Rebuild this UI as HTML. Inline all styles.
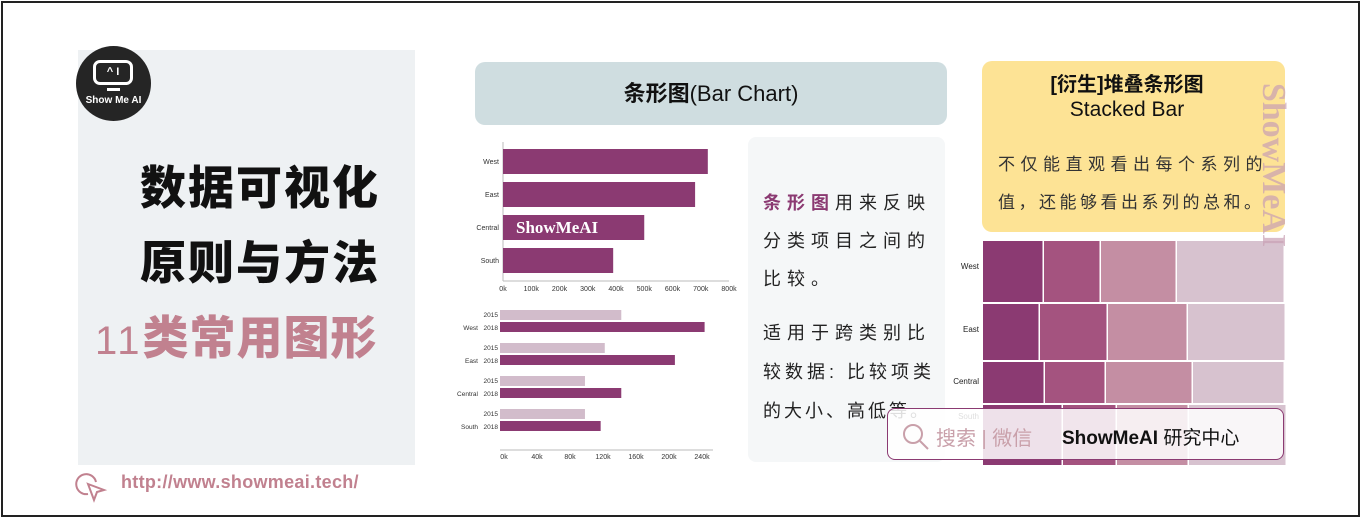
<!DOCTYPE html>
<html><head><meta charset="utf-8">
<style>
*{margin:0;padding:0;box-sizing:border-box}
body{width:1361px;height:518px;background:#fff;position:relative;overflow:hidden;font-family:"Liberation Sans","Noto Sans CJK SC",sans-serif}
.abs{position:absolute}
#frame{left:1px;top:1px;width:1359px;height:516px;border:2px solid #222}
#leftpanel{left:78px;top:50px;width:337px;height:415px;background:#eef1f3}
.big{font-family:"Noto Sans CJK SC","WenQuanYi Zen Hei",sans-serif;font-weight:900;font-size:46px;letter-spacing:2px;line-height:1;white-space:nowrap}
#midtext{left:748px;top:137px;width:197px;height:325px;background:#f5f7f8;border-radius:8px}
.mt{font-family:"Liberation Sans","Noto Sans CJK SC",sans-serif;font-size:18px;letter-spacing:6px;color:#222;white-space:nowrap}
</style></head><body>
<div id="frame" class="abs"></div>
<div id="leftpanel" class="abs"></div>
<div class="abs" style="left:76px;top:46px;width:75px;height:75px;border-radius:50%;background:#252525">
  <div class="abs" style="left:17px;top:14px;width:40px;height:25px;border:3px solid #fff;border-radius:7px;color:#fff;font-size:11px;font-weight:bold;text-align:center;line-height:19px">^ I</div>
  <div class="abs" style="left:31px;top:42px;width:13px;height:3px;background:#fff"></div>
  <div class="abs" style="left:0;top:49px;width:75px;text-align:center;color:#fff;font-size:10px;font-weight:bold">Show Me AI</div>
</div>
<div class="abs big" style="left:140px;top:162px;color:#111">数据可视化</div>
<div class="abs big" style="left:140px;top:237px;color:#111">原则与方法</div>
<div class="abs big" style="left:95px;top:312px;color:#c1818f;letter-spacing:1px"><span style="font-family:'Liberation Sans',sans-serif;font-size:40px;font-weight:400;letter-spacing:3px">11</span>类常用图形</div>
<div class="abs" style="left:74px;top:472px">
<svg width="34" height="32"><path d="M14 22 A10 10 0 1 1 22 10" fill="none" stroke="#c1818f" stroke-width="2"/><path d="M14 12 L30 18 L23 20 L20 28 Z" fill="none" stroke="#c1818f" stroke-width="2"/></svg></div>
<div class="abs" style="left:121px;top:472px;font-size:18px;color:#c1818f;font-weight:bold;letter-spacing:0.3px">http://www.showmeai.tech/</div>

<div class="abs" style="left:475px;top:62px;width:472px;height:63px;background:#cfdde0;border-radius:10px;text-align:center;line-height:63px;font-size:22px;font-weight:bold;color:#111">条形图<span style="font-weight:normal">(Bar Chart)</span></div>

<svg class="abs" style="left:0;top:0" width="1361" height="518">
<g id="c1"></g><g id="c2"></g><g id="c3"></g>
</svg>

<div id="midtext" class="abs"></div>
<div class="abs mt" style="left:763px;top:189px"><span style="color:#8b3a72;font-weight:bold">条形图</span>用来反映</div>
<div class="abs mt" style="left:763px;top:227px">分类项目之间的</div>
<div class="abs mt" style="left:763px;top:265px">比较。</div>
<div class="abs mt" style="left:763px;top:319px">适用于跨类别比</div>
<div class="abs mt" style="left:763px;top:358px;letter-spacing:4px">较数据: 比较项类</div>
<div class="abs mt" style="left:763px;top:397px;letter-spacing:3px">的大小、高低等。</div>

<div class="abs" style="left:982px;top:61px;width:303px;height:171px;background:#fde395;border-radius:10px">
  <div class="abs" style="left:0;top:7px;width:290px;text-align:center;font-size:20px;font-weight:bold;color:#111">[衍生]堆叠条形图</div>
  <div class="abs" style="left:0;top:37px;width:290px;text-align:center;font-size:21px;color:#111">Stacked Bar</div>
  <div class="abs" style="left:16px;top:89px;font-size:17px;letter-spacing:5.5px;color:#333;white-space:nowrap">不仅能直观看出每个系列的</div>
  <div class="abs" style="left:16px;top:127px;font-size:17px;letter-spacing:3.5px;color:#333;white-space:nowrap">值，还能够看出系列的总和。</div>
</div>
<div class="abs" style="left:1178px;top:148px;width:190px;height:34px;transform:rotate(90deg);font-size:34px;font-weight:bold;font-family:'Liberation Serif',serif;color:#c9a0b4;text-align:center;line-height:34px;opacity:.7;z-index:5">ShowMeAI</div>

<div class="abs" style="left:887px;top:408px;width:397px;height:52px;background:rgba(255,255,255,.85);border:1px solid #8b3a72;border-radius:8px">
  <svg class="abs" style="left:12px;top:12px" width="30" height="30"><circle cx="13" cy="13" r="9" fill="none" stroke="#c9a0aa" stroke-width="2"/><line x1="20" y1="20" x2="28" y2="28" stroke="#c9a0aa" stroke-width="2"/></svg>
  <div class="abs" style="left:48px;top:13px;font-size:20px;color:#c9a0aa">搜索 | 微信</div>
  <div class="abs" style="left:174px;top:14px;font-size:19px;font-weight:bold;color:#111">ShowMeAI <span style="font-weight:normal">研究中心</span></div>
</div>

<script>
const regions = ["West","East","Central","South"];
const totals = [725, 680, 500, 390];
const ticks1 = ["0k","100k","200k","300k","400k","500k","600k","700k","800k"];
const sales2015 = [147, 127, 103, 103];
const sales2018 = [248, 212, 147, 122];
const ticks2 = ["0k","40k","80k","120k","160k","200k","240k"];
const stackA = [61, 57, 62, 80];
const stackB = [57, 68, 61, 54];
const stackC = [76, 80, 87, 72];
const stackD = [108, 98, 92, 98];
const NS="http://www.w3.org/2000/svg";
function mk(p,tag,attrs,txt){const e=document.createElementNS(NS,tag);for(const k in attrs)e.setAttribute(k,attrs[k]);if(txt!==undefined)e.textContent=txt;p.appendChild(e);return e;}
const PURPLE="#8b3a72", LIGHT="#d2bccb";
const c1=document.getElementById('c1');
const x1=v=>503+v*(226/800);
mk(c1,'line',{x1:503,y1:142,x2:503,y2:281,stroke:'#bbb'});
mk(c1,'line',{x1:503,y1:281,x2:729,y2:281,stroke:'#bbb'});
ticks1.forEach((t,i)=>{
  const tx=mk(c1,'text',{x:x1(i*100),y:291,'font-size':7,'text-anchor':'middle',fill:'#333'},t);
  
  
});
regions.forEach((r,i)=>{
  const y=149+i*33;
  const b=mk(c1,'rect',{x:503,y:y,width:x1(totals[i])-503,height:25,fill:PURPLE});
  
  
  const l=mk(c1,'text',{x:499,y:y+15,'font-size':7,'text-anchor':'end',fill:'#333'},r);
  
  
});
const wm=mk(c1,'text',{x:516,y:233,'font-size':17,'font-weight':'bold','font-family':'Liberation Serif',fill:'#fff'},'ShowMeAI');


const c2=document.getElementById('c2');
const x2=v=>500+v*(33/40);
mk(c2,'line',{x1:500,y1:450,x2:713,y2:450,stroke:'#bbb'});
ticks2.forEach((t,i)=>{
  const tx=mk(c2,'text',{x:x2(i*40)+4,y:459,'font-size':7,'text-anchor':'middle',fill:'#333'},t);
  
  
});
regions.forEach((r,i)=>{
  const y=310+i*33;
  const a=mk(c2,'rect',{x:500,y:y,width:x2(sales2015[i])-500,height:10,fill:LIGHT});
  
  
  const b=mk(c2,'rect',{x:500,y:y+12,width:x2(sales2018[i])-500,height:10,fill:PURPLE});
  
  
  mk(c2,'text',{x:498,y:y+7,'font-size':6.5,'text-anchor':'end',fill:'#333'},'2015');
  mk(c2,'text',{x:498,y:y+20,'font-size':6.5,'text-anchor':'end',fill:'#333'},'2018');
  const l=mk(c2,'text',{x:478,y:y+20,'font-size':6.5,'text-anchor':'end',fill:'#333'},r);
  
  
});
const c3=document.getElementById('c3');
const cols=[PURPLE,"#a4537f","#c48ea3","#d7c2cf"];
const rowsY=[241,304,362,405], rowsH=[61,56,41,60];
regions.forEach((r,i)=>{
  let x=983;
  [stackA,stackB,stackC,stackD].forEach((s,k)=>{
    const w=s[i];
    const seg=mk(c3,'rect',{x:x,y:rowsY[i],width:w-1.5,height:rowsH[i],fill:cols[k]});
    
    
    x+=w;
  });
  const l=mk(c3,'text',{x:979,y:rowsY[i]+[28,28,22,14][i],'font-size':8,'text-anchor':'end',fill:'#222'},r);
  
  
});
</script>
</body></html>
